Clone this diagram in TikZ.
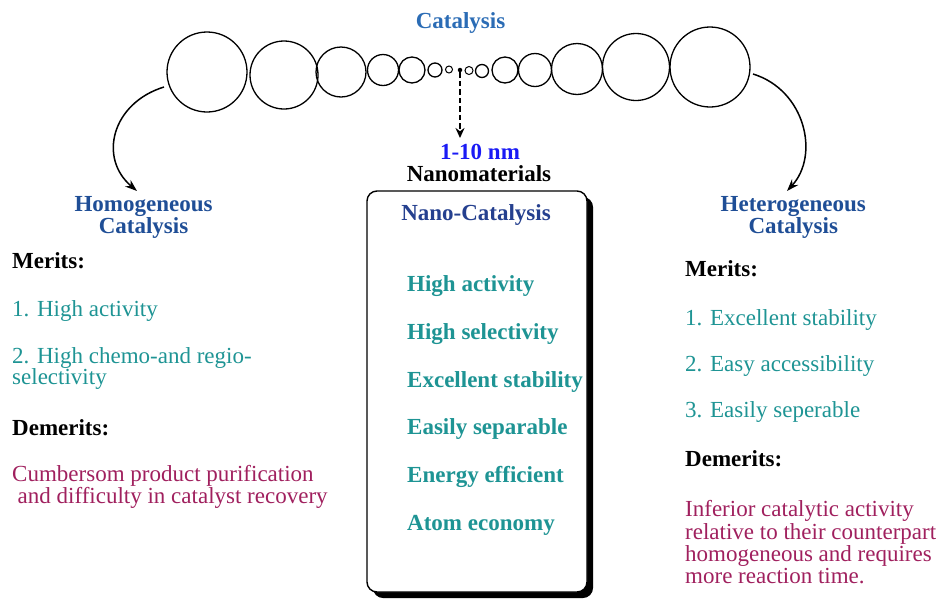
\documentclass[tikz,border=0pt]{standalone}
\usepackage{fontspec}
\setmainfont{Liberation Serif}
\usetikzlibrary{arrows.meta,shadows}
\definecolor{titleblue}{HTML}{2B6CB5}
\definecolor{headblue}{HTML}{1F4E96}
\definecolor{navyblue}{HTML}{25408F}
\definecolor{nmblue}{HTML}{1A1AF5}
\definecolor{tealtxt}{HTML}{1E9494}
\definecolor{crimsontxt}{HTML}{A0205E}
\newcommand{\fsz}{\fontsize{23}{22}\selectfont}
\begin{document}
\begin{tikzpicture}[x=1pt,y=-1pt,
  ring/.style={circle,draw=black,line width=1.3pt,inner sep=0pt},
  txt/.style={inner sep=0pt,anchor=base west,font=\fsz},
  btxt/.style={inner sep=0pt,anchor=base west,font=\fsz\bfseries},
  ctxt/.style={inner sep=0pt,anchor=base,font=\fsz\bfseries},
  curvearrow/.style={line width=1.5pt,-{Stealth[length=12pt,width=8.5pt]}}
]
\useasboundingbox (0,0) rectangle (941,600);
% chain of circles
\node[ring,minimum size=80pt] (c1) at (207,72) {};
\node[ring,minimum size=68pt] (c2) at (284,75) {};
\node[ring,minimum size=50pt] (c3) at (341,72) {};
\node[ring,minimum size=31pt] (c4) at (383,70) {};
\node[ring,minimum size=26pt] (c5) at (412,70) {};
\node[ring,minimum size=14pt] (c6) at (435,70) {};
\node[ring,minimum size=7pt,line width=1pt] (c7) at (449,69.5) {};
\node[circle,fill=black,inner sep=0pt,minimum size=4.5pt] (dot) at (460,70) {};
\node[ring,minimum size=8pt,line width=1pt] (c9) at (469,70.5) {};
\node[ring,minimum size=13pt] (c10) at (482,71) {};
\node[ring,minimum size=26pt] (c11) at (505,70) {};
\node[ring,minimum size=33pt] (c12) at (535,70) {};
\node[ring,minimum size=51pt] (c13) at (577,69) {};
\node[ring,minimum size=67pt] (c14) at (636,67) {};
\node[ring,minimum size=80pt] (c15) at (710,67) {};
% title
\node[ctxt,text=titleblue] (title) at (460.5,28) {Catalysis};
% dashed arrow
\coordinate (dtip) at (460,138);
\draw[line width=2.4pt,dash pattern=on 5.5pt off 3pt,-{Stealth[length=10pt,width=9pt]}] (dot) -- (dtip);
\node[ctxt,text=nmblue] (nm) at (480,159.5) {1-10 nm};
\node[ctxt] (nanomat) at (479,181.5) {Nanomaterials};
% curved arrows
\coordinate (ls) at (164,87);
\coordinate (le) at (137,191);
\draw[curvearrow] (ls) .. controls (112,103) and (98,158) .. (le);
\coordinate (rs) at (753,74);
\coordinate (re) at (787,191);
\draw[curvearrow] (rs) .. controls (805,90) and (820,155) .. (re);
% central box
\node[draw=black,line width=1.4pt,rounded corners=10pt,fill=white,
  minimum width=220pt,minimum height=401pt,inner sep=0pt,
  drop shadow={shadow xshift=6pt,shadow yshift=-6pt,opacity=1,fill=black}] (box) at (477,391.5) {};
\node[ctxt,text=navyblue] (nanocat) at (476,220) {Nano-Catalysis};
\begin{scope}[every node/.style={btxt,text=tealtxt}]
\node (n1) at (407,291.7) {High activity};
\node (n2) at (407,339.4) {High selectivity};
\node (n3) at (407,387.1) {Excellent stability};
\node (n4) at (407,434.8) {Easily separable};
\node (n5) at (407,482.5) {Energy efficient};
\node (n6) at (407,530.2) {Atom economy};
\end{scope}
% left column
\node[ctxt,text=headblue] (hom1) at (143.5,211.7) {Homogeneous};
\node[ctxt,text=headblue] (hom2) at (143.5,233.4) {Catalysis};
\node[btxt] (lmer) at (12,268.3) {Merits:};
\node[txt,text=tealtxt] (lm1) at (12,316.7) {1. High activity};
\node[txt,text=tealtxt] (lm2a) at (12,363.3) {2. High chemo-and regio-};
\node[txt,text=tealtxt] (lm2b) at (12,384.8) {selectivity};
\node[btxt] (ldem) at (12,435) {Demerits:};
\node[txt,text=crimsontxt] (ld1) at (12,481.7) {Cumbersom product purification};
\node[txt,text=crimsontxt] (ld2) at (17.5,503.4) {and difficulty in catalyst recovery};
% right column
\node[ctxt,text=headblue] (het1) at (793.3,211.7) {Heterogeneous};
\node[ctxt,text=headblue] (het2) at (793.3,233.4) {Catalysis};
\node[btxt] (rmer) at (685,276.7) {Merits:};
\node[txt,text=tealtxt] (rm1) at (685,325) {1. Excellent stability};
\node[txt,text=tealtxt] (rm2) at (685,371.3) {2. Easy accessibility};
\node[txt,text=tealtxt] (rm3) at (685,417.7) {3. Easily seperable};
\node[btxt] (rdem) at (685,466.7) {Demerits:};
\node[txt,text=crimsontxt] (rd1) at (685,516.7) {Inferior catalytic activity};
\node[txt,text=crimsontxt] (rd2) at (685,539) {relative to their counterpart};
\node[txt,text=crimsontxt] (rd3) at (685,561.3) {homogeneous and requires};
\node[txt,text=crimsontxt] (rd4) at (685,583.6) {more reaction time.};
\end{tikzpicture}
\end{document}
